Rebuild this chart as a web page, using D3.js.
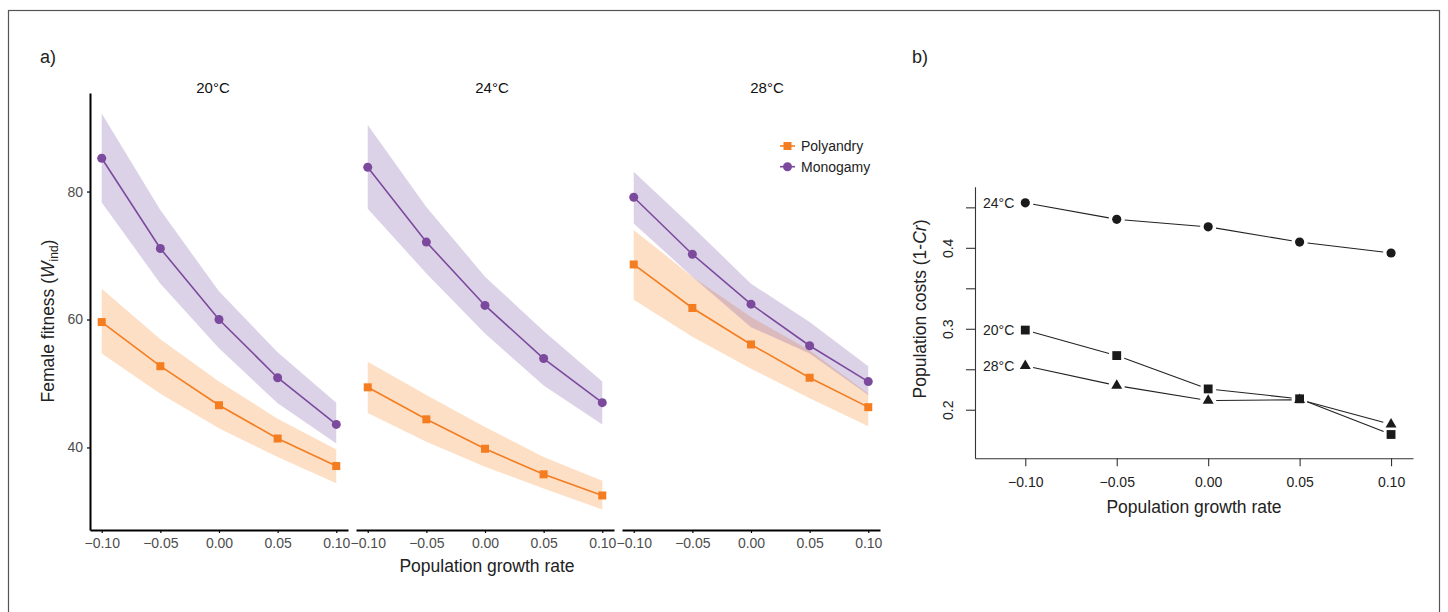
<!DOCTYPE html>
<html>
<head>
<meta charset="utf-8">
<script src="https://cdn.jsdelivr.net/npm/d3@7"></script>
<style>
  body { margin: 0; background: #fff; }
  text { font-family: Arial, "Liberation Sans", sans-serif; }
</style>
</head>
<body>
<div id="chart"></div>
<script>
// ---- data ----
var growthRates = [-0.10, -0.05, 0.00, 0.05, 0.10];
var temps = ["20°C", "24°C", "28°C"];

// panel a: one row per temperature (20, 24, 28)
var polyandryFit = [[59.6, 52.7, 46.6, 41.4, 37.1], [49.4, 44.4, 39.8, 35.8, 32.5], [68.6, 61.8, 56.1, 50.9, 46.3]];
var polyandryLo  = [[54.7, 48.4, 43.0, 38.5, 34.4], [45.4, 40.9, 37.0, 33.6, 30.3], [63.1, 57.3, 52.3, 47.7, 43.3]];
var polyandryHi  = [[64.8, 56.9, 50.3, 44.5, 39.7], [53.4, 48.2, 43.2, 38.5, 34.8], [74.0, 66.7, 60.4, 55.2, 48.4]];
var monogamyFit  = [[85.2, 71.1, 60.0, 50.9, 43.6], [83.8, 72.1, 62.2, 53.9, 47.0], [79.1, 70.2, 62.4, 55.9, 50.3]];
var monogamyLo   = [[78.3, 65.6, 55.5, 46.9, 40.6], [77.3, 67.2, 57.8, 49.7, 43.6], [75.0, 66.7, 58.8, 54.7, 48.2]];
var monogamyHi   = [[92.2, 77.1, 64.4, 54.9, 47.0], [90.4, 77.6, 66.7, 58.2, 50.3], [83.1, 74.5, 65.6, 59.6, 52.7]];
var fitnessTicks = [40, 60, 80];

// panel b
var costTemps = ["20°C", "24°C", "28°C"];
var costSymbols = ["square", "circle", "triangle"];
var popCosts = [[0.2984, 0.2669, 0.2257, 0.2135, 0.1694],
                [0.4556, 0.4352, 0.4259, 0.4071, 0.3936],
                [0.2543, 0.2298, 0.2114, 0.2123, 0.1820]];
var costTicks = [0.20, 0.25, 0.30, 0.35, 0.40, 0.45];
var costLabelled = [0.2, 0.3, 0.4];

var orange = "#f47d21", purple = "#7b4a9d";

var svg = d3.select("#chart").append("svg")
    .attr("width", 1448)
    .attr("height", 612);

// outer frame
svg.append("rect")
    .attr("x", 8.5).attr("y", 10.5)
    .attr("width", 1431).attr("height", 640)
    .attr("fill", "none")
    .attr("stroke", "#555")
    .attr("stroke-width", 1.2);

// ================= panel a =================
svg.append("text").attr("x", 40).attr("y", 63)
    .attr("font-size", "18px").attr("fill", "#222").text("a)");

var panelLeft = [90, 356, 622], panelW = 258;
var stripShift = [-6, 7, 16];
var yA = d3.scaleLinear().domain([27.1, 95.4]).range([530, 93]);

temps.forEach(function(t, i) {
    var xA = d3.scaleLinear().domain([-0.11, 0.11]).range([panelLeft[i], panelLeft[i] + panelW]);
    var g = svg.append("g");

    var area = function(lo, hi) {
        return d3.area()
            .x(function(d, j) { return xA(growthRates[j]); })
            .y0(function(d, j) { return yA(lo[j]); })
            .y1(function(d, j) { return yA(hi[j]); })(growthRates);
    };
    var line = function(vals) {
        return d3.line()
            .x(function(d, j) { return xA(growthRates[j]); })
            .y(function(d) { return yA(d); })(vals);
    };

    g.append("path").attr("d", area(polyandryLo[i], polyandryHi[i]))
        .attr("fill", "#f98d2e").attr("fill-opacity", 0.28);
    g.append("path").attr("d", area(monogamyLo[i], monogamyHi[i]))
        .attr("fill", "#7e57a8").attr("fill-opacity", 0.27);

    g.append("path").attr("d", line(polyandryFit[i]))
        .attr("fill", "none").attr("stroke", orange).attr("stroke-width", 1.6);
    g.append("path").attr("d", line(monogamyFit[i]))
        .attr("fill", "none").attr("stroke", purple).attr("stroke-width", 1.6);

    g.selectAll(".sq").data(polyandryFit[i]).enter().append("rect")
        .attr("x", function(d, j) { return xA(growthRates[j]) - 4; })
        .attr("y", function(d) { return yA(d) - 4; })
        .attr("width", 8).attr("height", 8)
        .attr("fill", orange);
    g.selectAll(".ci").data(monogamyFit[i]).enter().append("circle")
        .attr("cx", function(d, j) { return xA(growthRates[j]); })
        .attr("cy", function(d) { return yA(d); })
        .attr("r", 4.5)
        .attr("fill", purple);

    // x axis
    var xAxis = g.append("g")
        .attr("transform", "translate(0,530)")
        .call(d3.axisBottom(xA).tickValues(growthRates).tickFormat(d3.format(".2f"))
            .tickSize(3).tickSizeOuter(0).tickPadding(5));
    xAxis.select(".domain").attr("stroke", "#000").attr("stroke-width", 2);
    xAxis.selectAll("line").attr("stroke", "#000").attr("stroke-width", 1.2);
    xAxis.selectAll("text").attr("font-size", "14px").attr("fill", "#4d4d4d")
        .attr("font-family", "Arial, 'Liberation Sans', sans-serif");

    // strip label
    svg.append("text")
        .attr("x", panelLeft[i] + panelW / 2 + stripShift[i])
        .attr("y", 93)
        .attr("text-anchor", "middle")
        .attr("font-size", "15px").attr("fill", "#111")
        .text(t);
});

// y axis for panel a
var yAxisA = svg.append("g")
    .attr("transform", "translate(90,0)")
    .call(d3.axisLeft(yA).tickValues(fitnessTicks).tickSize(3).tickSizeOuter(0).tickPadding(4));
yAxisA.select(".domain").attr("stroke", "#000").attr("stroke-width", 2);
yAxisA.selectAll("line").attr("stroke", "#000").attr("stroke-width", 1.2);
yAxisA.selectAll("text").attr("font-size", "14px").attr("fill", "#4d4d4d")
    .attr("font-family", "Arial, 'Liberation Sans', sans-serif");

// axis titles
svg.append("text")
    .attr("x", 487).attr("y", 572)
    .attr("text-anchor", "middle")
    .attr("font-size", "17.5px").attr("fill", "#222")
    .text("Population growth rate");

var yTitleA = svg.append("text")
    .attr("transform", "translate(54,321) rotate(-90)")
    .attr("text-anchor", "middle")
    .attr("font-size", "17.5px").attr("fill", "#222");
yTitleA.append("tspan").text("Female fitness (");
yTitleA.append("tspan").attr("font-style", "italic").text("W");
yTitleA.append("tspan").attr("font-size", "12px").attr("dy", 4).text("ind");
yTitleA.append("tspan").attr("dy", -4).text(")");

// legend
var legend = svg.append("g").attr("transform", "translate(780,146)");
[["Polyandry", orange, "square"], ["Monogamy", purple, "circle"]].forEach(function(it, k) {
    var row = legend.append("g").attr("transform", "translate(0," + (k * 20.7) + ")");
    row.append("line").attr("x1", 0).attr("x2", 15).attr("y1", 0).attr("y2", 0)
        .attr("stroke", it[1]).attr("stroke-width", 1.6);
    if (it[2] === "square") {
        row.append("rect").attr("x", 3.5).attr("y", -4).attr("width", 8).attr("height", 8).attr("fill", it[1]);
    } else {
        row.append("circle").attr("cx", 7.5).attr("cy", 0).attr("r", 4.5).attr("fill", it[1]);
    }
    row.append("text").attr("x", 21).attr("y", 0).attr("dy", "0.35em")
        .attr("font-size", "14px").attr("fill", "#222").text(it[0]);
});

// ================= panel b =================
svg.append("text").attr("x", 912).attr("y", 63)
    .attr("font-size", "18px").attr("fill", "#222").text("b)");

var xB = d3.scaleLinear().domain([-0.1275, 0.112]).range([975, 1413]);
var yB = d3.scaleLinear().domain([0.14, 0.4755]).range([458.3, 186.7]);

var xAxisB = svg.append("g")
    .attr("transform", "translate(0,458.3)")
    .call(d3.axisBottom(xB).tickValues(growthRates).tickFormat(d3.format(".2f"))
        .tickSize(8).tickSizeOuter(0).tickPadding(11));
xAxisB.select(".domain").attr("stroke", "#333").attr("stroke-width", 1.1);
xAxisB.selectAll("line").attr("stroke", "#333").attr("stroke-width", 1.1);
xAxisB.selectAll("text").attr("font-size", "14px").attr("fill", "#222")
    .attr("font-family", "Arial, 'Liberation Sans', sans-serif");

var yAxisB = svg.append("g")
    .attr("transform", "translate(975,0)")
    .call(d3.axisLeft(yB).tickValues(costTicks)
        .tickFormat(function(d) { return costLabelled.some(function(v) { return Math.abs(v - d) < 1e-9; }) ? d3.format(".1f")(d) : ""; })
        .tickSize(9).tickSizeOuter(0));
yAxisB.select(".domain").attr("stroke", "#333").attr("stroke-width", 1.1);
yAxisB.selectAll("line").attr("stroke", "#333").attr("stroke-width", 1.1);
yAxisB.selectAll("text")
    .attr("transform", "rotate(-90)")
    .attr("x", 0).attr("y", -22).attr("dy", 0)
    .attr("text-anchor", "middle")
    .attr("font-size", "14px").attr("fill", "#222")
    .attr("font-family", "Arial, 'Liberation Sans', sans-serif");

// broken lines (gaps round the points)
var gap = 8;
popCosts.forEach(function(vals, s) {
    var pts = vals.map(function(v, j) { return [xB(growthRates[j]), yB(v)]; });
    for (var j = 0; j < pts.length - 1; j++) {
        var a = pts[j], b = pts[j + 1];
        var dx = b[0] - a[0], dy = b[1] - a[1], len = Math.sqrt(dx * dx + dy * dy);
        var ux = dx / len, uy = dy / len;
        svg.append("line")
            .attr("x1", a[0] + ux * gap).attr("y1", a[1] + uy * gap)
            .attr("x2", b[0] - ux * gap).attr("y2", b[1] - uy * gap)
            .attr("stroke", "#222").attr("stroke-width", 1.1);
    }
    var sym = costSymbols[s] === "circle" ? d3.symbol(d3.symbolCircle, 66)
        : costSymbols[s] === "square" ? d3.symbol(d3.symbolSquare, 78)
        : d3.symbol(d3.symbolTriangle, 52);
    svg.selectAll(null).data(pts).enter().append("path")
        .attr("d", sym)
        .attr("transform", function(p) { return "translate(" + p[0] + "," + p[1] + ")"; })
        .attr("fill", "#1a1a1a");
    svg.append("text")
        .attr("x", xB(growthRates[0]) - 11)
        .attr("y", yB(vals[0]))
        .attr("dy", "0.35em")
        .attr("text-anchor", "end")
        .attr("font-size", "14px").attr("fill", "#222")
        .text(costTemps[s]);
});

svg.append("text")
    .attr("x", 1194).attr("y", 513)
    .attr("text-anchor", "middle")
    .attr("font-size", "17.5px").attr("fill", "#222")
    .text("Population growth rate");

var yTitleB = svg.append("text")
    .attr("transform", "translate(926,309) rotate(-90)")
    .attr("text-anchor", "middle")
    .attr("font-size", "17.5px").attr("fill", "#222");
yTitleB.append("tspan").text("Population costs (1-");
yTitleB.append("tspan").attr("font-style", "italic").text("Cr");
yTitleB.append("tspan").text(")");
</script>
</body>
</html>
